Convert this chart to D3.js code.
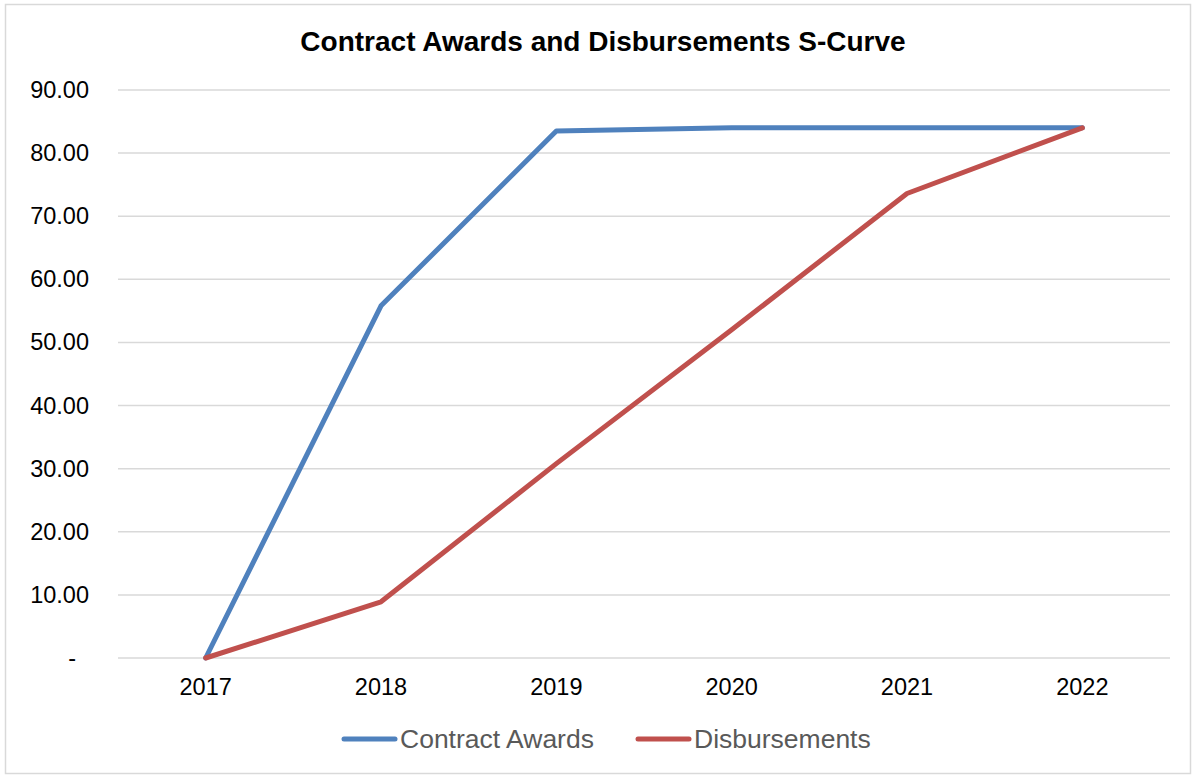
<!DOCTYPE html>
<html>
<head>
<meta charset="utf-8">
<script src="https://cdn.jsdelivr.net/npm/d3@7"></script>
<style>
  body { margin: 0; background: #fff; }
  svg text { font-family: "Liberation Sans", Arial, sans-serif; }
</style>
</head>
<body>
<div id="chart"></div>
<script>
// data
const years = ['2017', '2018', '2019', '2020', '2021', '2022'];
const contractAwards = [0, 55.8, 83.5, 84.0, 84.0, 84.0];
const disbursements = [0, 8.9, 30.8, 52.0, 73.6, 84.0];
const yTicks = [0, 10, 20, 30, 40, 50, 60, 70, 80, 90];

const W = 1193, H = 776;
let margin = {top: 90, right: 23, bottom: 118, left: 118},
    width = W - margin.left - margin.right,
    height = H - margin.top - margin.bottom;

const series = [
    {name: 'Contract Awards', values: contractAwards, color: '#4F81BD'},
    {name: 'Disbursements', values: disbursements, color: '#C0504D'}
];

const svg = d3.select('#chart').append('svg')
    .attr('width', W)
    .attr('height', H);

// outer border
svg.append('rect')
    .attr('x', 5.5).attr('y', 4.5)
    .attr('width', W - 8).attr('height', H - 7)
    .attr('fill', '#fff')
    .attr('stroke', '#d9d9d9')
    .attr('stroke-width', 1.5);

// title
svg.append('text')
    .attr('x', 603).attr('y', 51)
    .attr('text-anchor', 'middle')
    .style('font-size', '28px')
    .style('font-weight', 'bold')
    .text('Contract Awards and Disbursements S-Curve');

const g = svg.append('g')
    .attr('transform', 'translate(' + margin.left + ',' + margin.top + ')');

let x = d3.scaleBand()
    .domain(years)
    .range([0, width]);

let y = d3.scaleLinear()
    .domain([0, 90])
    .range([height, 0]);

// gridlines
g.selectAll('.grid')
    .data(yTicks).enter()
    .append('line')
    .attr('x1', 0).attr('x2', width)
    .attr('y1', d => y(d)).attr('y2', d => y(d))
    .attr('stroke', '#d9d9d9')
    .attr('stroke-width', 1.5);

// y axis labels
let yAxis = g.append('g')
    .call(d3.axisLeft(y).tickValues(yTicks).tickSize(0).tickPadding(29)
        .tickFormat(d => d === 0 ? '-' : d3.format('.2f')(d)));
yAxis.select('.domain').remove();
yAxis.selectAll('text').style('font-size', '23.5px').attr('fill', '#000');
yAxis.selectAll('.tick').filter(d => d === 0).select('text').attr('dx', -13);

// x axis labels
let xAxis = g.append('g')
    .attr('transform', 'translate(0,' + height + ')')
    .call(d3.axisBottom(x).tickSize(0).tickPadding(20));
xAxis.select('.domain').remove();
xAxis.selectAll('text').style('font-size', '23.5px').attr('fill', '#000');

// lines
let line = d3.line()
    .x((d, i) => x(years[i]) + x.bandwidth() / 2)
    .y(d => y(d));

g.selectAll('.series')
    .data(series).enter()
    .append('path')
    .attr('fill', 'none')
    .attr('stroke', d => d.color)
    .attr('stroke-width', 5)
    .attr('stroke-linejoin', 'round')
    .attr('stroke-linecap', 'round')
    .attr('d', d => line(d.values));

// legend
const legendPos = [342, 636];
let legend = svg.selectAll('.legend')
    .data(series).enter()
    .append('g')
    .attr('transform', (d, i) => 'translate(' + legendPos[i] + ',739)');

legend.append('line')
    .attr('x1', 2).attr('x2', 53)
    .attr('stroke', d => d.color)
    .attr('stroke-width', 5)
    .attr('stroke-linecap', 'round');

legend.append('text')
    .attr('x', 58).attr('y', 9)
    .style('font-size', '26.5px')
    .attr('fill', '#595959')
    .text(d => d.name);
</script>
</body>
</html>
